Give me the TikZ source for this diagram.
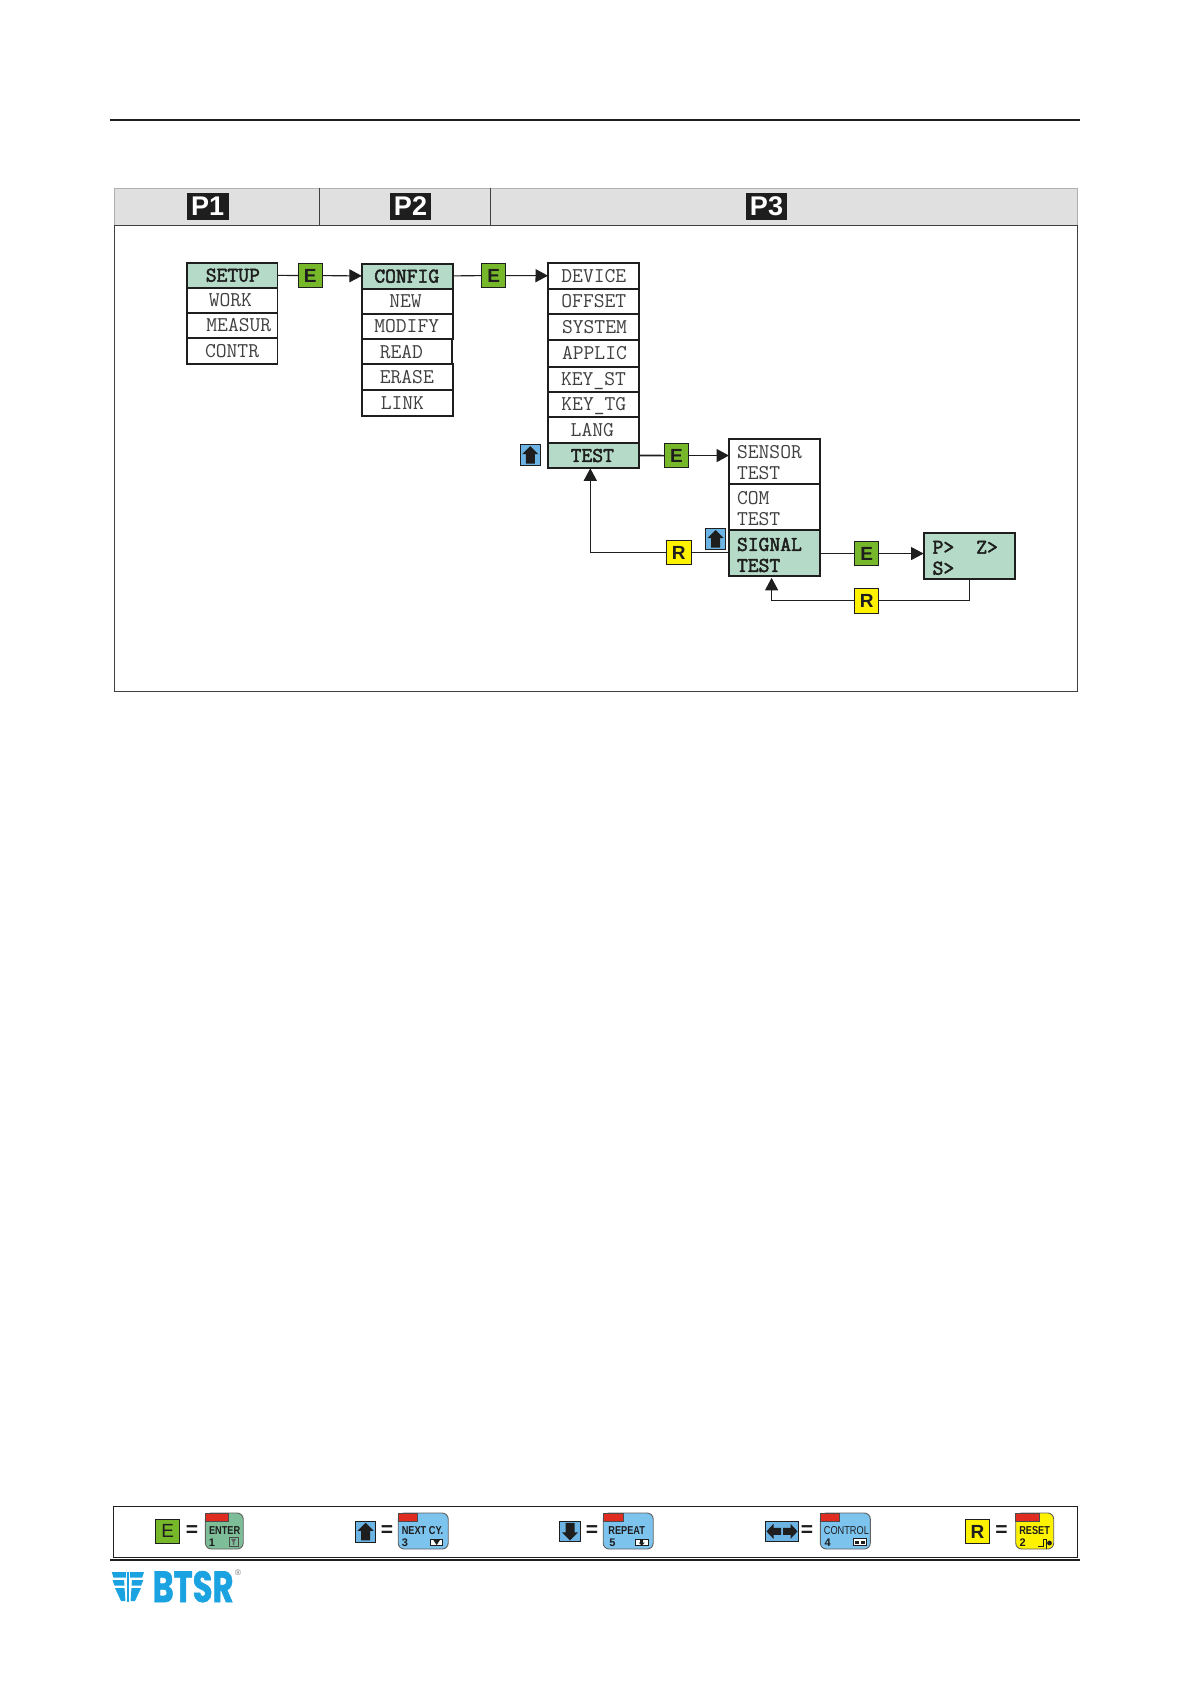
\documentclass[tikz,border=0pt]{standalone}
\usepackage{fontspec}
\usepackage{graphicx}
\setmainfont{Liberation Sans}
\newfontfamily\boldmono{Latin Modern Mono}[FakeBold=2.4]
\newfontfamily\logofont{Poppins}[FakeBold=1.5]
\usetikzlibrary{arrows.meta,calc}
\definecolor{mint}{HTML}{B5DBC8}
\definecolor{egreen}{HTML}{76B82A}
\definecolor{ryellow}{HTML}{FFF200}
\definecolor{iconblue}{HTML}{6CB4E4}
\definecolor{keygreen}{HTML}{7DBE98}
\definecolor{keyblue}{HTML}{7CC3EE}
\definecolor{keyred}{HTML}{E02B20}
\definecolor{headgrey}{HTML}{E0E0E0}
\definecolor{logoblue}{HTML}{1AA3E0}
\definecolor{ink}{HTML}{1E1E1E}
\tikzset{
  every node/.style={inner sep=0pt,outer sep=0pt},
  rowplain/.style={draw=ink,line width=1.8pt,fill=white,align=left,text=ink!85,font=\ttfamily\fontsize{21}{21}\selectfont},
  rowsel/.style={rowplain,fill=mint,text=ink,font=\boldmono\fontsize{21}{21}\selectfont},
  tagbox/.style={draw=ink,line width=0.9pt,text=ink,font=\bfseries\fontsize{19}{19}\selectfont,minimum width=24.5pt,minimum height=24.5pt,anchor=north west},
  tagE/.style={tagbox,fill=egreen},
  tagR/.style={tagbox,fill=ryellow},
  legtag/.style={font=\fontsize{19}{19}\selectfont},
  iconbox/.style={draw=ink,line width=0.9pt,fill=iconblue,anchor=north west},
  headlabel/.style={fill=ink,text=white,font=\bfseries\fontsize{27}{27}\selectfont,minimum height=27pt,anchor=north west},
  headcell/.style={draw=ink!35,line width=0.8pt,fill=headgrey,anchor=north west},
  conn/.style={draw=ink,line width=1.1pt},
  connthick/.style={draw=ink,line width=1.6pt},
  tip/.style={-{Triangle[length=12.5pt,width=13pt]}},
  keyshape/.style={draw=ink!70,line width=0.9pt,rounded corners=6pt},
  keytab/.style={draw=ink!80,line width=0.6pt,fill=keyred},
  keytext/.style={anchor=west,text=ink,font=\bfseries\fontsize{11.5}{11.5}\selectfont},
  keynum/.style={anchor=west,text=ink,font=\bfseries\fontsize{11}{11}\selectfont},
  eqsign/.style={text=ink,font=\bfseries\fontsize{21}{21}\selectfont},
}
\newcommand\rowb[8]{%
  \pgfmathsetmacro\rw{#4-#2}\pgfmathsetmacro\rh{#5-#3}%
  \node[#6,minimum width=\rw pt,minimum height=\rh pt,text width=\rw pt,anchor=north west] (#1) at (#2,#3) {\hspace*{#7pt}#8};}
\newcommand\upicon[3]{%
  \node[iconbox,minimum width=20.5pt,minimum height=21.5pt] (#1) at (#2,#3) {};
  \fill[ink] ($(#1.center)+(0,-9)$) -- ++(8,8) -- ++(-3.5,0) -- ++(0,9.5) -- ++(-9,0) -- ++(0,-9.5) -- ++(-3.5,0) -- cycle;}
\newcommand\keybox[8]{% name x1 x2 colour tabend text num numx
  \pgfmathsetmacro\rw{#3-#2}\pgfmathsetmacro\tw{#5-#2}%
  \node[keyshape,fill=#4,minimum width=\rw pt,minimum height=36pt,anchor=north west] (#1) at (#2,1513) {};
  \node[keytab,minimum width=\tw pt,minimum height=8pt,anchor=north west] (#1tab) at (#2,1513.3) {};
  \node[keytext] (#1txt) at (#2+3.6,1531) {\scalebox{.8}[1]{#6}};
  \node[keynum] (#1num) at (#8,1542.3) {#7};}
\begin{document}
\begin{tikzpicture}[x=1pt,y=-1pt]
\useasboundingbox (0,0) rectangle (1190,1684);
\fill[white] (0,0) rectangle (1190,1684);
% page rules
\coordinate (rtl) at (109.5,119.5); \coordinate (rtr) at (1079.5,119.5);
\draw[ink,line width=2pt] (rtl) -- (rtr);
% header and main frame
\node[headcell,minimum width=205pt,minimum height=37.5pt] (h1) at (114,188) {};
\node[headcell,minimum width=171pt,minimum height=37.5pt] (h2) at (319,188) {};
\node[headcell,minimum width=587pt,minimum height=37.5pt] (h3) at (490,188) {};
\draw[ink!85,line width=1pt] (h1.north east) -- (h1.south east);
\draw[ink!85,line width=1pt] (h2.north east) -- (h2.south east);
\node[draw=ink!85,line width=1pt,minimum width=963pt,minimum height=466pt,anchor=north west] (frame) at (114,225.5) {};
\node[headlabel,minimum width=41.5pt] (p1) at (187,193) {P1};
\node[headlabel,minimum width=41pt] (p2) at (390,193) {P2};
\node[headlabel,minimum width=41pt] (p3) at (746,193) {P3};
% column 1
\rowb{work}{186.8}{287.7}{277.5}{313}{rowplain}{22}{WORK}
\rowb{measur}{186.8}{313}{277.5}{338}{rowplain}{19.6}{MEASUR}
\rowb{contr}{186.8}{338}{277.5}{364}{rowplain}{18.2}{CONTR}
\rowb{setup}{186.8}{262.7}{277.5}{287.7}{rowsel}{19}{SETUP}
% column 2
\rowb{new}{361.8}{288.7}{453}{314}{rowplain}{27.5}{NEW}
\rowb{modify}{361.8}{314}{453}{339}{rowplain}{12.5}{MODIFY}
\rowb{read}{361.8}{339}{452}{364.3}{rowplain}{18}{READ}
\rowb{erase}{361.8}{364.3}{453}{390}{rowplain}{18}{ERASE}
\rowb{link}{361.8}{390}{453}{416}{rowplain}{19}{LINK}
\rowb{config}{361.8}{263.7}{453}{288.7}{rowsel}{12.5}{CONFIG}
% column 3
\rowb{device}{548}{263}{639}{288.7}{rowplain}{13.4}{DEVICE}
\rowb{offset}{548}{288.7}{639}{314}{rowplain}{13.4}{OFFSET}
\rowb{system}{548}{314}{639}{340}{rowplain}{14}{SYSTEM}
\rowb{applic}{548}{340}{639}{366.7}{rowplain}{14}{APPLIC}
\rowb{keyst}{548}{366.7}{639}{391.7}{rowplain}{13}{KEY\smash{\_}ST}
\rowb{keytg}{548}{391.7}{639}{417.3}{rowplain}{13.4}{KEY\smash{\_}TG}
\rowb{lang}{548}{417.3}{639}{442.7}{rowplain}{22.7}{LANG}
\rowb{test}{548}{442.7}{639}{468.3}{rowsel}{22.7}{TEST}
% column 4
\rowb{sensor}{729}{438.7}{820}{483.7}{rowplain}{8}{\rule{0pt}{16pt}SENSOR\\\hspace*{8pt}TEST}
\rowb{com}{729}{483.7}{820}{529.7}{rowplain}{8}{\rule{0pt}{17pt}COM\\\hspace*{8pt}TEST}
\rowb{signal}{729}{529.7}{820}{576.3}{rowsel}{8}{\rule{0pt}{17pt}SIGNAL\\\hspace*{8pt}TEST}
% result box
\rowb{zbox}{923.6}{532.7}{1014.6}{578.8}{rowsel}{9}{\rule{0pt}{17pt}P>\hspace{22pt}Z>\\\hspace*{9pt}S>}
% tags
\node[tagE] (e1) at (298,263.3) {E};
\node[tagE] (e2) at (481.4,263.3) {E};
\node[tagE] (e3) at (664.3,443.3) {E};
\node[tagE] (e4) at (854.4,541.3) {E};
\node[tagR] (r1) at (666.5,540.3) {R};
\node[tagR] (r2) at (854.4,588.6) {R};
\upicon{up1}{520}{444.3}
\upicon{up2}{705.3}{528.3}
% connectors
\draw[conn] (setup) -- (e1);
\draw[conn,tip] (e1) -- (config);
\draw[conn] (config) -- (e2);
\draw[conn,tip] (e2) -- (device);
\draw[connthick] (test.east) -- (e3.west);
\draw[connthick,tip] (e3.east) -- (e3.east -| sensor.west);
\draw[conn] (signal.east |- e4) -- (e4.west);
\draw[conn,tip] (e4.east) -- (e4.east -| zbox.west);
\draw[conn] (signal.west |- r1) -- (r1.east);
\draw[conn,tip] (r1.west) -| ([xshift=-3.2pt]test.south);
\draw[conn] (zbox.south) |- (r2.east);
\draw[conn,tip] (r2.west) -| ([xshift=-2.9pt,yshift=-1.5pt]signal.south);
% legend frame
\node[draw=ink,line width=0.9pt,minimum width=963.7pt,minimum height=51.7pt,anchor=north west] (legend) at (113.6,1506) {};
\coordinate (rbl) at (110,1559.8); \coordinate (rbr) at (1080,1559.8);
\draw[ink,line width=2.6pt] (rbl) -- (rbr);
% legend: enter
\node[tagE,legtag,fill=egreen] (le) at (155.4,1519) {E};
\node[eqsign] (eq1) at (192,1531) {=};
\keybox{kenter}{205.4}{243.2}{keygreen}{228.6}{ENTER}{1}{208.8}
\node[draw=ink!80,line width=0.6pt,minimum width=8.6pt,minimum height=8.4pt,anchor=north west] (ienter) at (229.3,1537.7) {};
\fill[ink!70] ($(ienter.center)+(-2.5,-3)$) -- ++(5,0) -- ++(-1.7,3) -- ++(0,3) -- ++(-1.6,0) -- ++(0,-3) -- cycle;
% legend: next
\upicon{lup}{355.4}{1521}
\node[eqsign] (eq2) at (387,1531) {=};
\keybox{knext}{398.2}{448.2}{keyblue}{417.5}{NEXT CY.}{3}{401.8}
\node[draw=ink,line width=0.9pt,fill=white,minimum width=12.5pt,minimum height=6.6pt,anchor=north west] (inext) at (430.4,1539.3) {};
\fill[ink] ($(inext.center)+(-3.2,-2.5)$) -- ++(6.4,0) -- ++(-3.2,5) -- cycle;
% legend: repeat
\node[iconbox,minimum width=21.4pt,minimum height=20.7pt] (ldown) at (559.3,1521) {};
\fill[ink] ($(ldown.center)+(0,9)$) -- ++(8,-8) -- ++(-3.5,0) -- ++(0,-9.5) -- ++(-9,0) -- ++(0,9.5) -- ++(-3.5,0) -- cycle;
\node[eqsign] (eq3) at (592,1531) {=};
\keybox{krepeat}{603.2}{653.2}{keyblue}{623.6}{\hspace*{2pt}REPEAT}{5}{609.3}
\node[draw=ink,line width=0.9pt,fill=white,minimum width=13.5pt,minimum height=6.6pt,anchor=north west] (irepeat) at (635,1539.3) {};
\fill[ink] ($(irepeat.center)+(-1.5,-3)$) rectangle ++(3,3);
\fill[ink] ($(irepeat.center)+(-3,0)$) -- ++(6,0) -- ++(-3,3) -- cycle;
% legend: control
\node[iconbox,minimum width=33.4pt,minimum height=20.7pt] (llr) at (765.3,1521) {};
\fill[ink] ($(llr.center)+(-15.5,0)$) -- ++(7,-7.5) -- ++(0,4) -- ++(7.5,0) -- ++(0,7) -- ++(-7.5,0) -- ++(0,4) -- cycle;
\fill[ink] ($(llr.center)+(15.5,0)$) -- ++(-7,-7.5) -- ++(0,4) -- ++(-7.5,0) -- ++(0,7) -- ++(7.5,0) -- ++(0,4) -- cycle;
\node[eqsign] (eq4) at (807,1531) {=};
\keybox{kcontrol}{820.3}{870.3}{keyblue}{839.7}{\mdseries CONTROL}{4}{824.7}
\node[draw=ink,line width=0.9pt,fill=white,minimum width=13.4pt,minimum height=7.2pt,anchor=north west] (icontrol) at (853.3,1538.7) {};
\fill[ink] ($(icontrol.center)+(-5,-1.5)$) rectangle ++(4,3);
\fill[ink] ($(icontrol.center)+(1,-1.5)$) rectangle ++(4,3);
% legend: reset
\node[tagR] (lr) at (965.3,1519.3) {R};
\node[eqsign] (eq5) at (1001.5,1531) {=};
\keybox{kreset}{1015.7}{1053.7}{ryellow}{1039.7}{RESET}{2}{1019.7}
\coordinate (ipulse) at (1038,1546.5);
\draw[ink,line width=0.9pt] (ipulse) -- ++(5,0) -- ++(0,-7) -- ++(3,0) -- ++(0,9);
\fill[ink] (1049.5,1543) circle (2.4pt);
% logo
\fill[logoblue] (111.7,1572) -- (126,1572) -- (126,1577.5) -- (113.5,1577.5) -- cycle;
\fill[logoblue] (112.5,1580) -- (124,1580) -- (124.5,1585.5) -- (114.5,1585.5) -- cycle;
\fill[logoblue] (115,1588) -- (124.5,1588) -- (125.5,1601) -- (121,1601) -- cycle;
\fill[logoblue] (144,1572) -- (130,1572) -- (130,1577.5) -- (142.2,1577.5) -- cycle;
\fill[logoblue] (143.2,1580) -- (132,1580) -- (131.5,1585.5) -- (141.2,1585.5) -- cycle;
\fill[logoblue] (141,1588) -- (131.5,1588) -- (130.5,1601) -- (135,1601) -- cycle;
\fill[logoblue] (127,1572) rectangle (129,1601.7);
\node[text=logoblue,anchor=north west] (logo) at (152.5,1571) {\resizebox{81pt}{31pt}{\logofont\bfseries BTSR}};
\node[text=ink!60,font=\fontsize{8}{8}\selectfont] (reg) at (238,1573) {®};
\end{tikzpicture}
\end{document}
